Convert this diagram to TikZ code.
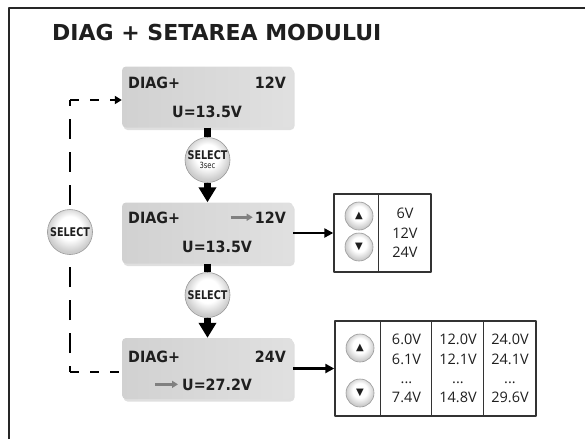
\documentclass[tikz,border=0pt]{standalone}
\usepackage{fontspec}
\setmainfont{Open Sans}
\newfontfamily\titlefont{DejaVu Sans}
\newfontfamily\lcdfont{DejaVu Sans}[FakeStretch=0.92]
\newfontfamily\selfont{DejaVu Sans}[FakeStretch=0.8]
\newfontfamily\symfont{DejaVu Sans}
\usetikzlibrary{arrows.meta,shadows}
\pgfdeclareradialshading{knob}{\pgfpoint{0bp}{6bp}}{color(0bp)=(white); color(13bp)=(white); color(25bp)=(black!20); color(50bp)=(black!20)}
\begin{document}
\begin{tikzpicture}[x=1pt,y=-1pt, line join=round, text=black!88,
	lcd/.style={rounded corners=4pt, minimum width=171pt, minimum height=61pt, left color=black!18, right color=black!12,
		drop shadow={opacity=0.25, shadow xshift=1.5pt, shadow yshift=-2.5pt}},
	lbl/.style={inner sep=0pt, font=\lcdfont\bfseries\fontsize{15.5}{18}\selectfont},
	selbtn/.style={circle, draw=black!40, line width=0.6pt, shading=knob, minimum size=45pt,
		inner sep=0pt, align=center, font=\selfont\bfseries\fontsize{12}{10}\selectfont},
	updown/.style={circle, draw=black!40, line width=0.6pt, shading=knob, minimum size=28pt,
		inner sep=0pt, font=\symfont\fontsize{10}{10}\selectfont},
	tbl/.style={draw=black!80, line width=1.4pt, inner sep=0pt},
	vals/.style={inner sep=0pt, align=center, font=\fontsize{14.5}{19.3}\selectfont},
	flow/.style={line width=7pt},
	link/.style={line width=2.5pt, -{Triangle[width=9pt,length=9pt]}},
	vback/.style={line width=2.5pt, dash pattern=on 20pt off 13pt, dash phase=14pt},
	hback/.style={line width=2.5pt, dash pattern=on 9pt off 11pt},
	garrow/.style={draw=black!50, line width=2.5pt, -{Triangle[width=7pt,length=6pt]}}]
\useasboundingbox (0,0) rectangle (585,439);
\draw[line width=2.5pt, black!85] (9,439) -- (9,8) -- (585,8);
\node[anchor=base west, inner sep=0pt, font=\titlefont\bfseries\fontsize{22}{26}\selectfont] (title) at (52,40) {DIAG + SETAREA MODULUI};

% ecrane
\node[lcd] (d1) at (207.5,97) {};
\node[lbl, anchor=base west] (d1a) at (128,88) {DIAG+};
\node[lbl, anchor=base east] (d1b) at (286,88) {12V};
\node[lbl, anchor=base west] (d1c) at (172,117) {U=13.5V};

\node[lcd] (d2) at (207.5,233) {};
\node[lbl, anchor=base west] (d2a) at (128,223) {DIAG+};
\node[lbl, anchor=base east] (d2b) at (286,223) {12V};
\node[lbl, anchor=base west] (d2c) at (182,252) {U=13.5V};
\draw[garrow] ([xshift=-24pt]d2b.west) -- ([xshift=-2pt]d2b.west);

\node[lcd] (d3) at (207.5,368.5) {};
\node[lbl, anchor=base west] (d3a) at (128,362) {DIAG+};
\node[lbl, anchor=base east] (d3b) at (286,362) {24V};
\node[lbl, anchor=base west] (d3c) at (182,390) {U=27.2V};
\draw[garrow] ([xshift=-27pt]d3c.west) -- ([xshift=-4pt]d3c.west);

% butoane SELECT
\node[selbtn] (s1) at (207.5,160) {SELECT\\[-1pt]{\mdseries\fontsize{8.5}{9}\selectfont 3sec}};
\node[selbtn] (s2) at (207.5,295) {SELECT};
\node[selbtn] (s0) at (70,232) {SELECT};

\draw[flow] (d1) -- (s1);
\draw[flow, -{Triangle[width=17pt,length=15pt]}] (s1) -- (d2);
\draw[flow] (d2) -- (s2);
\draw[flow, -{Triangle[width=17pt,length=15pt]}] (s2) -- (d3);

% revenire
\coordinate (c1) at ([yshift=-3pt]s0.north |- d1.west);
\coordinate (c2) at ([yshift=-3.5pt]s0.south |- d3.west);
\draw[vback] (c1) -- (s0.north);
\draw[hback, -{Triangle[width=8pt,length=7pt]}] (c1) -- (c1 -| d1.west);
\draw[vback] (c2) -- (s0.south);
\draw[hback] (c2) -- (c2 -| d3.west);

% tabele
\node[tbl, minimum width=97pt, minimum height=78pt] (t1) at (382.5,233) {};
\draw[tbl] ([xshift=45pt]t1.north west) -- ([xshift=45pt]t1.south west);
\node[updown] (u1) at (359,216) {▲};
\node[updown] (w1) at (359,247) {▼};
\node[vals] (v1) at (405,233) {6V\\12V\\24V};

\node[tbl, minimum width=201pt, minimum height=95pt] (t2) at (435.5,368.5) {};
\foreach \dx in {46,97,149}
	\draw[tbl] ([xshift=\dx pt]t2.north west) -- ([xshift=\dx pt]t2.south west);
\node[updown] (u2) at (360,348) {▲};
\node[updown] (w2) at (360,393) {▼};
\node[vals] (v2) at (406.5,368.5) {6.0V\\6.1V\\...\\7.4V};
\node[vals] (v3) at (458,368.5) {12.0V\\12.1V\\...\\14.8V};
\node[vals] (v4) at (510,368.5) {24.0V\\24.1V\\...\\29.6V};

\draw[link] (d2) -- (t1);
\draw[link] (d3.east) -- (d3.east -| t2.west);
\end{tikzpicture}
\end{document}
